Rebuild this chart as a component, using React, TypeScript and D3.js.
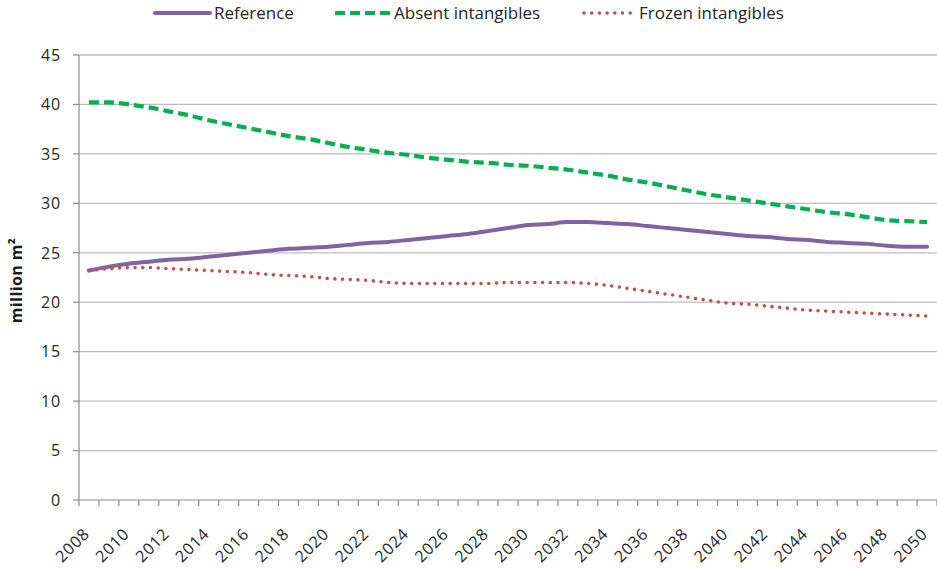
import React from "react";
import * as d3 from "d3";

const years: number[] = d3.range(2008, 2051);

const referenceValues = [
  23.2, 23.6, 23.9, 24.1, 24.3, 24.4, 24.6, 24.8, 25.0, 25.2,
  25.4, 25.5, 25.6, 25.8, 26.0, 26.1, 26.3, 26.5, 26.7, 26.9,
  27.2, 27.5, 27.8, 27.9, 28.1, 28.1, 28.0, 27.9, 27.7, 27.5,
  27.3, 27.1, 26.9, 26.7, 26.6, 26.4, 26.3, 26.1, 26.0, 25.9,
  25.7, 25.6, 25.6,
];

const absentValues = [
  40.2, 40.2, 40.0, 39.7, 39.3, 38.9, 38.4, 38.0, 37.6, 37.2,
  36.8, 36.5, 36.1, 35.7, 35.4, 35.1, 34.9, 34.6, 34.4, 34.2,
  34.1, 33.9, 33.8, 33.6, 33.4, 33.1, 32.8, 32.4, 32.1, 31.7,
  31.3, 30.9, 30.6, 30.3, 30.0, 29.7, 29.4, 29.1, 28.9, 28.6,
  28.3, 28.2, 28.1,
];

const frozenValues = [
  23.2, 23.4, 23.5, 23.5, 23.4, 23.3, 23.2, 23.1, 23.0, 22.8,
  22.7, 22.6, 22.4, 22.3, 22.2, 22.0, 21.9, 21.9, 21.9, 21.9,
  21.9, 22.0, 22.0, 22.0, 22.0, 21.9, 21.7, 21.4, 21.1, 20.8,
  20.5, 20.2, 19.9, 19.8, 19.6, 19.4, 19.2, 19.1, 19.0, 18.9,
  18.8, 18.7, 18.6,
];

const yTicks = [0, 5, 10, 15, 20, 25, 30, 35, 40, 45];
const xLabelYears = years.filter((y) => (y - 2008) % 2 === 0);

const seriesNames = ["Reference", "Absent intangibles", "Frozen intangibles"];

const W = 937;
const H = 568;
const left = 79;
const right = 937;
const top = 55;
const bottom = 500;

const FONT = "'Open Sans', 'Liberation Sans', sans-serif";

export default function App() {
  const x = d3.scaleBand<number>().domain(years).range([left, right]).padding(0);
  const bw = x.bandwidth();
  const cx = (yr: number) => (x(yr) as number) + bw / 2;
  const y = d3.scaleLinear().domain([0, 45]).range([bottom, top]);

  const line = d3
    .line<number>()
    .x((_, i) => cx(years[i]))
    .y((d) => y(d))
    .curve(d3.curveMonotoneX);

  const styles = [
    { color: "#8064A2", width: 4, dash: undefined as string | undefined, cap: "round" as const },
    { color: "#00B050", width: 4.2, dash: "10 5", cap: "butt" as const },
    { color: "#C0504D", width: 3.6, dash: "0 7.7", cap: "round" as const },
  ];
  const seriesData = [referenceValues, absentValues, frozenValues];

  const legendItems = [
    { lx: 155, tx: 214 },
    { lx: 335, tx: 394 },
    { lx: 582, tx: 639 },
  ];

  const boundaries = years.map((yr) => x(yr) as number).concat([right]);

  return (
    <svg
      width={W}
      height={H}
      style={{ position: "absolute", left: 0, top: 0, background: "#fff" }}
      fontFamily={FONT}
    >
      <rect x={0} y={0} width={W} height={H} fill="#fff" />
      {/* gridlines */}
      {yTicks.slice(1).map((t) => (
        <line key={"g" + t} x1={left} x2={right} y1={y(t)} y2={y(t)} stroke="#bdbdbd" strokeWidth={1.3} />
      ))}
      {/* y axis */}
      <line x1={left} x2={left} y1={top} y2={bottom} stroke="#8a8a8a" strokeWidth={1.2} />
      {yTicks.map((t) => (
        <g key={"yt" + t}>
          <line x1={left - 6} x2={left} y1={y(t)} y2={y(t)} stroke="#8a8a8a" strokeWidth={1.2} />
          <text
            x={61}
            y={y(t)}
            dy="0.36em"
            textAnchor="end"
            fontSize={16}
            letterSpacing={0.8}
            fill="#262626"
          >
            {t}
          </text>
        </g>
      ))}
      {/* x axis */}
      <line x1={left} x2={right} y1={bottom} y2={bottom} stroke="#8a8a8a" strokeWidth={1.2} />
      {boundaries.map((bx, i) => (
        <line key={"xt" + i} x1={bx} x2={bx} y1={bottom} y2={bottom + 6} stroke="#8a8a8a" strokeWidth={1.2} />
      ))}
      {xLabelYears.map((yr) => (
        <text
          key={"xl" + yr}
          transform={`translate(${cx(yr) + 1.5},${535}) rotate(-45)`}
          textAnchor="end"
          fontSize={16}
          letterSpacing={0.8}
          fill="#262626"
        >
          {yr}
        </text>
      ))}
      {/* y label */}
      <text
        transform={`translate(22,${(top + bottom) / 2 + 3}) rotate(-90)`}
        textAnchor="middle"
        fontSize={16}
        fontWeight="bold"
        letterSpacing={0.4}
        fill="#1a1a1a"
      >
        million m²
      </text>
      {/* series */}
      {seriesData.map((d, i) => (
        <path
          key={"s" + i}
          d={line(d) || ""}
          fill="none"
          stroke={styles[i].color}
          strokeWidth={styles[i].width}
          strokeDasharray={styles[i].dash}
          strokeLinecap={styles[i].cap}
          strokeLinejoin="round"
        />
      ))}
      {/* legend */}
      {seriesNames.map((name, i) => (
        <g key={"lg" + i}>
          <line
            x1={legendItems[i].lx + (i === 2 ? 2 : 0)}
            x2={legendItems[i].lx + 55}
            y1={13}
            y2={13}
            stroke={styles[i].color}
            strokeWidth={styles[i].width}
            strokeDasharray={styles[i].dash}
            strokeLinecap={styles[i].cap}
          />
          <text x={legendItems[i].tx} y={19} fontSize={17} fill="#262626">
            {name}
          </text>
        </g>
      ))}
    </svg>
  );
}
